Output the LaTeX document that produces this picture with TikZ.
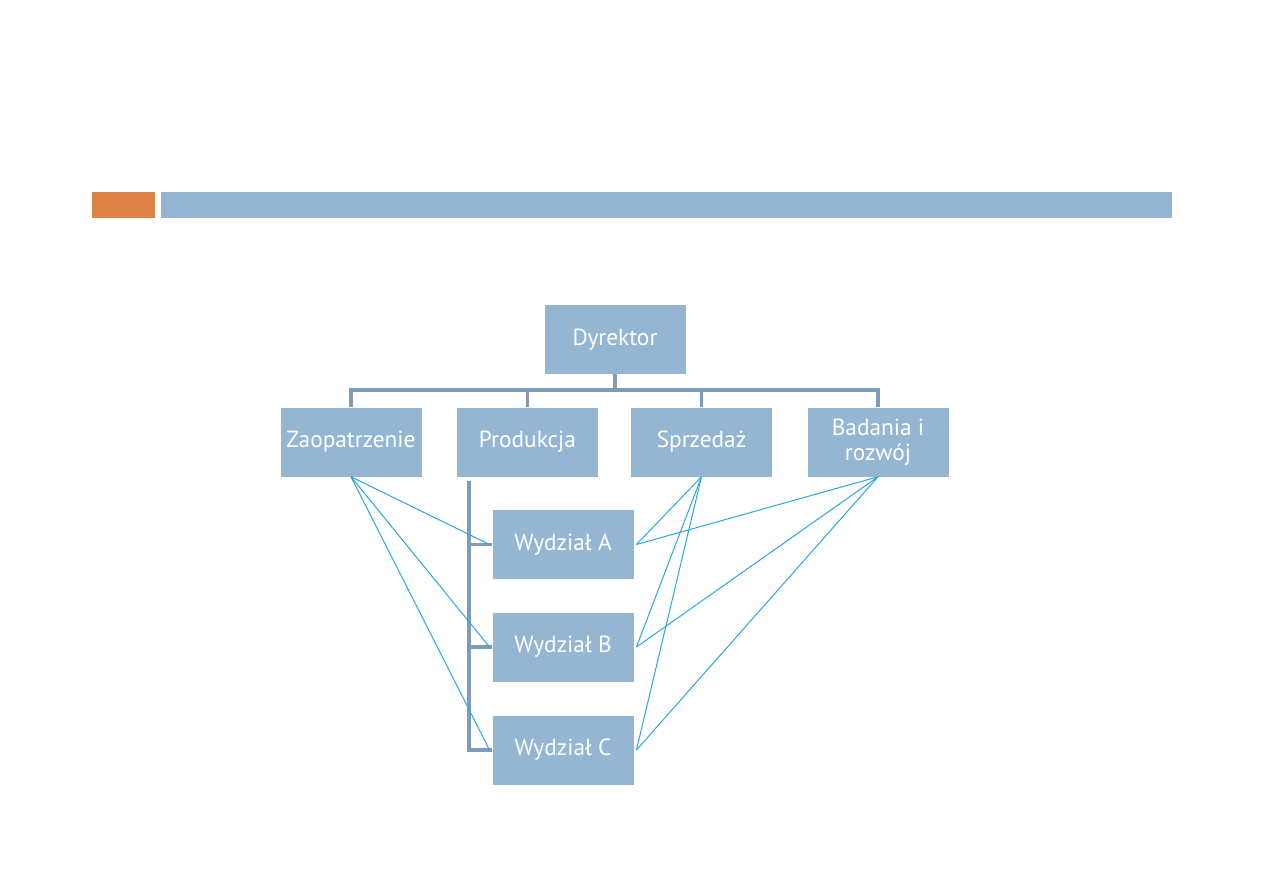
\documentclass[tikz,border=0pt]{standalone}
\usepackage{fontspec}
\setmainfont{PT Sans}
\definecolor{boxblue}{HTML}{94B6D3}
\definecolor{barblue}{HTML}{95B6D3}
\definecolor{orng}{HTML}{DF8245}
\definecolor{conn}{HTML}{7E9CB9}
\definecolor{thin}{HTML}{2AA8DC}
\begin{document}
\begin{tikzpicture}[x=0.75pt,y=-0.75pt,
  orgbox/.style={fill=boxblue,draw=none,minimum width=105.75pt,minimum height=51.75pt,
    text=white,font=\fontsize{17.5}{19}\selectfont,align=center,inner sep=0.5pt},
  tree/.style={draw=conn,line width=2.6pt},
  link/.style={draw=thin,line width=0.75pt}]
\useasboundingbox (0,0) rectangle (1263,893);
\fill[white] (0,0) rectangle (1263,893);
\fill[orng] (92,192) rectangle (155,218);
\fill[barblue] (161,192) rectangle (1172,218);

\node[orgbox] (dyr) at (615,339.5) {Dyrektor};
\node[orgbox] (zao) at (351,442) {Zaopatrzenie};
\node[orgbox] (pro) at (527.5,442) {Produkcja};
\node[orgbox] (spr) at (701.5,442) {Sprzedaż};
\node[orgbox] (bad) at (878,442) {Badania i\\rozwój};
\node[orgbox] (wa) at (563,544.5) {Wydział A};
\node[orgbox] (wb) at (563,647) {Wydział B};
\node[orgbox] (wc) at (563,750) {Wydział C};

\coordinate (hb) at (615,390);
\draw[tree] (dyr.south) -- (hb);
\draw[tree] (zao.north) |- (hb) -| (bad.north);
\draw[tree] (pro.north) -- (pro.north |- hb);
\draw[tree] (spr.north) -- (spr.north |- hb);

\coordinate (pv) at (469,481);
\draw[tree] (pv) |- (wc.west);
\draw[tree] (wa.west) -- (wa.west -| pv);
\draw[tree] (wb.west) -- (wb.west -| pv);

\foreach \w in {wa,wb,wc}{
  \draw[link] (zao.south) -- ([xshift=-2pt]\w.west);
  \draw[link] (spr.south) -- ([xshift=2pt]\w.east);
  \draw[link] (bad.south) -- ([xshift=2pt]\w.east);
}
\end{tikzpicture}
\end{document}
